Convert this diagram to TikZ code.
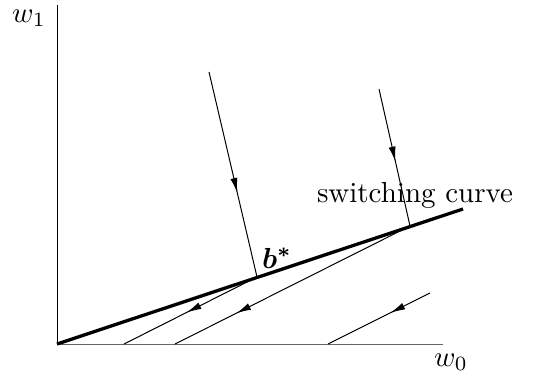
\documentclass[tikz,border=0pt]{standalone}
\usepackage{amsmath,bm}
\usetikzlibrary{arrows.meta,decorations.markings}
\begin{document}
\begin{tikzpicture}[x=1pt,y=-1pt,
  thinline/.style={line width=1pt},
  midarrow/.style={thinline,postaction={decorate},decoration={markings,
    mark=at position #1 with {\arrow{Latex[length=15pt,width=7pt]}}}},
  lbl/.style={inner sep=0pt}]
\useasboundingbox (0,0) rectangle (537,378);
\coordinate (O) at (57,344);
\coordinate (Y) at (57,5);
\coordinate (X) at (443,344);
\coordinate (E) at (463,209);
\coordinate (B) at (257,277);
\coordinate (S) at (410,226);
\coordinate (A1) at (209,72);
\coordinate (A2) at (379,89);
\coordinate (X1) at (124,344);
\coordinate (X2) at (175,344);
\coordinate (X3) at (328,344);
\coordinate (L3) at (430,293);
% axes
\draw[thinline] (O) -- (Y);
\draw[thinline,black!60] (O) -- (X);
% switching curve
\draw[line width=3.3pt] (O) -- (E);
% trajectories
\draw[midarrow=0.59] (A1) -- (B);
\draw[midarrow=0.53] (A2) -- (S);
\draw[midarrow=0.53] (B) -- (X1);
\draw[midarrow=0.74] (S) -- (X2);
\draw[midarrow=0.39] (L3) -- (X3);
% labels
\node[lbl] (w1) at (29,18) {\scalebox{2.9}{$w_1$}};
\node[lbl] (w0) at (451,362) {\scalebox{2.9}{$w_0$}};
\node[lbl] (sc) at (415,195) {\scalebox{2.9}{switching curve}};
\node[lbl] (bs) at (277,258) {\scalebox{2.9}{$\boldsymbol{b^*}$}};
\end{tikzpicture}
\end{document}
